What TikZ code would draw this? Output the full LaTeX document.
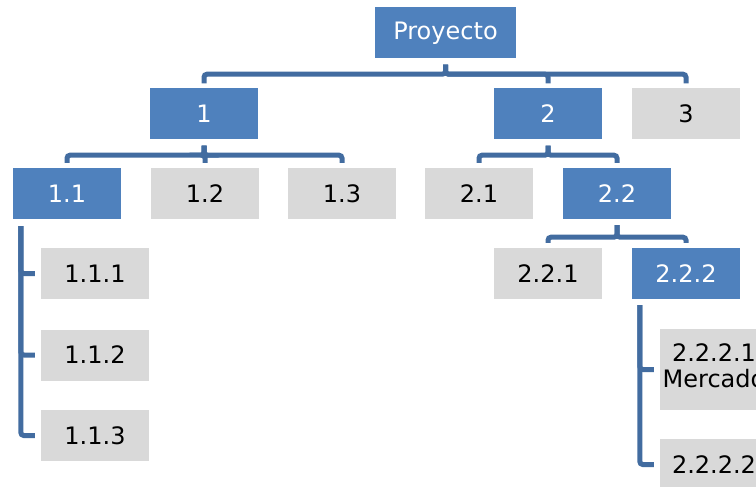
\documentclass[tikz,border=0pt]{standalone}
\usepackage{fontspec}
\setmainfont{DejaVu Sans}
\definecolor{wbsblue}{RGB}{79,129,189}
\definecolor{wbsgray}{RGB}{217,217,217}
\definecolor{wbsline}{RGB}{66,108,160}
\tikzset{
  box/.style={minimum width=108pt,minimum height=51pt,inner sep=0pt,
    font=\fontsize{24}{26}\selectfont},
  bluebox/.style={box,fill=wbsblue,text=white},
  graybox/.style={box,fill=wbsgray,text=black},
  link/.style={draw=wbsline,line width=5pt,rounded corners=3pt},
}
\begin{document}
\begin{tikzpicture}[x=1pt,y=-1pt]
  \useasboundingbox (0,0) rectangle (756,487);
  \clip (0,0) rectangle (756,487);
  % levels 0 and 1
  \node[bluebox,minimum width=141pt] (pr) at (445.5,33) {Proyecto};
  \node[bluebox] (n1) at (204,114) {1};
  \node[bluebox] (n2) at (548,114) {2};
  \node[graybox] (n3) at (686,114) {3};
  % level 2
  \node[bluebox] (n11) at (67,193.5) {1.1};
  \node[graybox] (n12) at (205,193.5) {1.2};
  \node[graybox] (n13) at (342,193.5) {1.3};
  \node[graybox] (n21) at (479,193.5) {2.1};
  \node[bluebox] (n22) at (617,193.5) {2.2};
  % level 3
  \node[graybox] (n111) at (95,273.5) {1.1.1};
  \node[graybox] (n112) at (95,355) {1.1.2};
  \node[graybox] (n113) at (95,435.5) {1.1.3};
  \node[graybox] (n221) at (548,273.5) {2.2.1};
  \node[bluebox] (n222) at (686,273.5) {2.2.2};
  % level 4, cut by the frame
  \node[graybox,minimum height=81pt,align=center] (n2221) at (714,369.5) {2.2.2.1\\Mercado\\[-18pt]};
  \node[graybox] (n2222) at (714,464.5) {2.2.2.2};
  % connectors
  \foreach \c in {n1,n2,n3}
    \draw[link] ([yshift=-6pt]pr.south) -- ++(0,9.5) -| ([yshift=5pt]\c.north);
  \foreach \c in {n11,n12,n13}
    \draw[link] ([yshift=-6pt]n1.south) -- ++(0,9.5) -| ([yshift=5pt]\c.north);
  \foreach \c in {n21,n22}
    \draw[link] ([yshift=-6pt]n2.south) -- ++(0,9.5) -| ([yshift=5pt]\c.north);
  \foreach \c in {n221,n222}
    \draw[link] ([yshift=-6pt]n22.south) -- ++(0,12) -| ([yshift=5pt]\c.north);
  \foreach \c in {n111,n112,n113}
    \draw[link] ([xshift=8pt,yshift=-7pt]n11.south west) |- ([xshift=-6pt]\c.west);
  \foreach \c in {n2221,n2222}
    \draw[link] ([xshift=8pt,yshift=-6pt]n222.south west) |- ([xshift=-6pt]\c.west);
\end{tikzpicture}
\end{document}
